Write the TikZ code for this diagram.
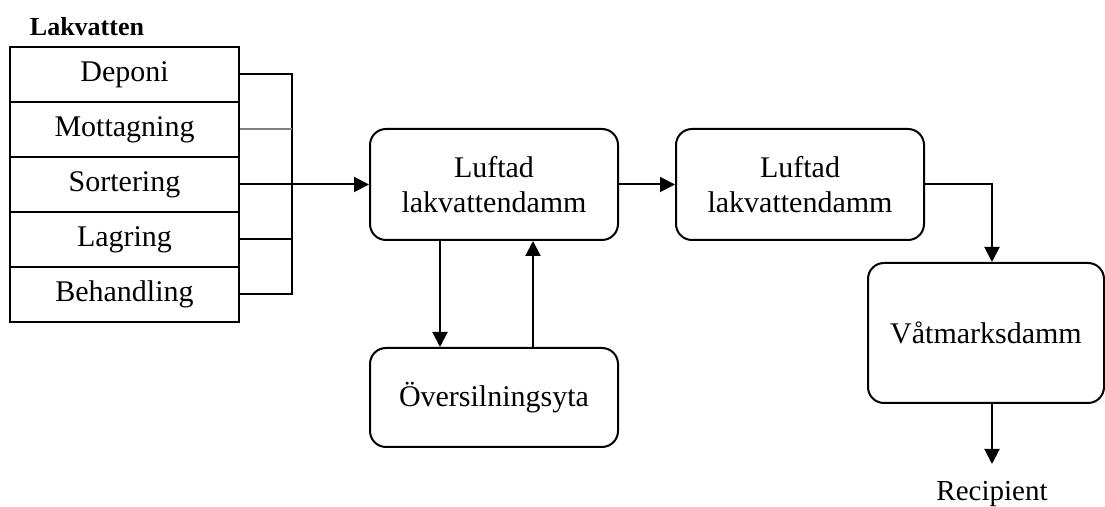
\documentclass[tikz,border=0pt]{standalone}
\usepackage{fontspec}
\setmainfont{Liberation Serif}
\usetikzlibrary{arrows.meta,calc}
\tikzset{
  rowbox/.style={draw, line width=1pt, minimum width=114.5pt, minimum height=27.5pt,
    inner sep=0pt, font=\fontsize{15pt}{16pt}\selectfont},
  pond/.style={draw, line width=1pt, rounded corners=8pt, minimum width=124pt,
    minimum height=55.5pt, inner sep=0pt, align=center,
    font=\fontsize{15pt}{17.5pt}\selectfont},
  wire/.style={line width=1pt},
  arr/.style={line width=1pt, -{Triangle[length=7.5pt,width=7.5pt]}},
  plain/.style={inner sep=0pt, font=\fontsize{14.5pt}{16pt}\selectfont}
}
\begin{document}
\begin{tikzpicture}[x=0.5pt,y=-0.5pt]
\useasboundingbox (0,0) rectangle (1105,507);

% leachate sources
\node[plain, font=\bfseries\fontsize{13pt}{15pt}\selectfont] (title) at (87,27) {Lakvatten};
\node[rowbox] (dep) at (124.5,74.5)  {Deponi};
\node[rowbox] (mot) at (124.5,129.5) {Mottagning};
\node[rowbox] (sor) at (124.5,184.5) {Sortering};
\node[rowbox] (lag) at (124.5,239.5) {Lagring};
\node[rowbox] (beh) at (124.5,294.5) {Behandling};

% collecting pipe
\coordinate (bus) at (292,184.5);
\draw[wire] (dep.east) -- (dep.east -| bus) -- (beh.east -| bus) -- (beh.east);
\draw[wire, gray] (mot.east) -- (mot.east -| bus);
\draw[wire] (lag.east) -- (lag.east -| bus);

% ponds
\node[pond] (p1) at (494,184.5) {Luftad\\lakvattendamm};
\node[pond, minimum height=49.5pt] (ov) at (494,397.5) {Översilningsyta};
\node[pond] (p2) at (800,184.5) {Luftad\\lakvattendamm};
\node[pond, minimum width=118pt, minimum height=70pt] (vat) at (986,333) {Våtmarksdamm};
\node[plain] (rec) at (992,494) {Recipient};

% flows
\draw[arr] (sor.east) -- (p1.west);
\draw[arr] (p1.east) -- (p2.west);
\coordinate (down) at (440,0);
\coordinate (up) at (533,0);
\draw[arr] (p1.south -| down) -- (ov.north -| down);
\draw[arr] (ov.north -| up) -- (p1.south -| up);
\coordinate (turn) at (992,184.5);
\coordinate (outlet) at (992,464);
\draw[arr] (p2.east) -- (turn) -- (turn |- vat.north);
\draw[arr] (vat.south -| turn) -- (outlet);
\end{tikzpicture}
\end{document}
